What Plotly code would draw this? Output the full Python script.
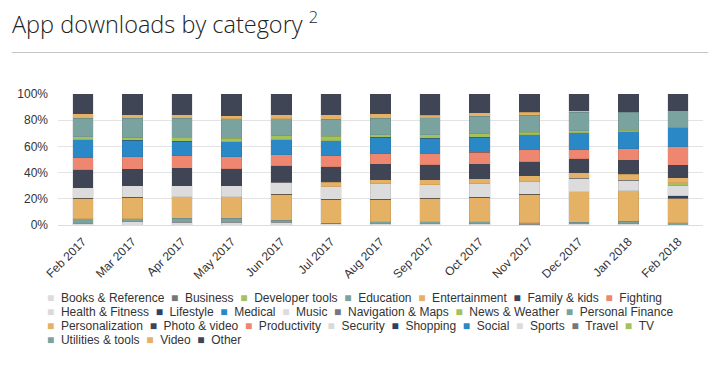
import plotly.graph_objects as go

# ---------------- data ----------------
months = ["Feb 2017", "Mar 2017", "Apr 2017", "May 2017", "Jun 2017", "Jul 2017",
          "Aug 2017", "Sep 2017", "Oct 2017", "Nov 2017", "Dec 2017", "Jan 2018", "Feb 2018"]

categories = ["Books & Reference", "Business", "Developer tools", "Education", "Entertainment",
              "Family & kids", "Fighting", "Health & Fitness", "Lifestyle", "Medical", "Music",
              "Navigation & Maps", "News & Weather", "Personal Finance", "Personalization",
              "Photo & video", "Productivity", "Security", "Shopping", "Social", "Sports",
              "Travel", "TV", "Utilities & tools", "Video", "Other"]

books_reference = [1.5, 2.6, 2.0, 2.0, 2.0, 1.3, 0.8, 0.8, 0.8, 0.6, 1.0, 1.2, 0.0]
business        = [0.0] * 13
developer_tools = [0.0] * 13
education       = [3.1, 2.3, 3.1, 3.1, 1.8, 0.0, 1.8, 1.8, 1.8, 1.2, 1.0, 1.7, 1.8]
entertainment   = [15.8, 16.3, 16.6, 16.6, 19.6, 18.4, 17.1, 17.9, 18.6, 21.7, 23.5, 23.3, 18.7]
family_kids     = [0.0] * 13
fighting        = [0.0] * 13
health_fitness  = [0.0] * 13
lifestyle       = [0, 0, 0, 0, 0, 0, 0, 0, 0, 0, 0, 0, 1.8]
medical         = [0.0] * 13
music           = [8.2, 8.7, 8.2, 8.2, 9.2, 9.7, 11.7, 10.2, 10.2, 9.7, 10.2, 8.0, 7.7]
navigation_maps = [0.0] * 13
news_weather    = [0, 0, 0, 0, 0, 0, 0, 0, 0, 0, 0, 0, 2.3]
personal_finance = [0.0] * 13
personalization = [0, 0, 0, 0, 0, 3.1, 3.1, 3.8, 3.8, 4.3, 4.3, 4.6, 3.8]
photo_video     = [13.5, 12.8, 13.5, 13.0, 12.5, 12.0, 12.0, 11.5, 11.2, 11.0, 10.5, 10.5, 9.7]
productivity    = [9.2, 9.4, 9.4, 9.2, 8.4, 8.4, 7.9, 8.9, 9.2, 8.9, 7.4, 9.1, 13.8]
security        = [0.0] * 13
shopping        = [0.0] * 13
social          = [13.8, 12.5, 11.0, 11.7, 11.5, 11.5, 12.5, 11.5, 11.5, 11.5, 12.5, 12.9, 14.8]
sports          = [0.0] * 13
travel          = [0.0] * 13
tv              = [2.3, 2.0, 3.1, 2.6, 3.1, 3.3, 2.0, 2.6, 2.6, 1.8, 1.5, 1.2, 0.0]
utilities_tools = [14.0, 14.8, 14.5, 14.8, 13.0, 13.3, 12.5, 13.0, 13.3, 13.0, 14.3, 13.6, 12.8]
video           = [3.6, 2.8, 2.8, 2.3, 3.1, 3.3, 3.6, 1.8, 2.6, 2.6, 1.0, 0.5, 0.0]
other           = [15.0, 15.8, 15.8, 16.6, 15.8, 15.8, 15.0, 16.3, 14.5, 13.8, 12.8, 13.4, 12.8]

series_values = [books_reference, business, developer_tools, education, entertainment,
                 family_kids, fighting, health_fitness, lifestyle, medical, music,
                 navigation_maps, news_weather, personal_finance, personalization,
                 photo_video, productivity, security, shopping, social, sports,
                 travel, tv, utilities_tools, video, other]

y_tick_values = [0, 20, 40, 60, 80, 100]
y_tick_labels = ["0%", "20%", "40%", "60%", "80%", "100%"]

palette = ["#dcdcdc", "#76777d", "#a3c25b", "#7aa39f", "#e5b165",
           "#404556", "#ee8670", "#dadada", "#2e4066", "#2a88c6"]

legend_rows = [7, 7, 9, 3]

# ---------------- layout geometry ----------------
W, H = 713, 382
ML, MR, MT, MB = 58, 10, 94, 157
PW, PH = W - ML - MR, H - MT - MB


def px(x):
    return (x - ML) / PW


def py(y):
    return (H - MB - y) / PH


FONT = "Arial, 'Liberation Sans', sans-serif"

fig = go.Figure()
for i, (name, vals) in enumerate(zip(categories, series_values)):
    col = palette[i % len(palette)]
    fig.add_trace(go.Bar(
        x=months, y=vals, name=name,
        marker=dict(color=col, line=dict(color="rgba(60,60,60,0.18)", width=0.6)),
        showlegend=False,
    ))

fig.update_layout(
    width=W, height=H,
    margin=dict(l=ML, r=MR, t=MT, b=MB, pad=0),
    barmode="stack", barnorm="percent", bargap=0.585,
    paper_bgcolor="white", plot_bgcolor="white",
    font=dict(family=FONT, size=12, color="#333333"),
    title=dict(
        text="App downloads by category <sup>2</sup>",
        x=12 / W, xanchor="left", xref="container",
        y=1 - 25 / H, yanchor="middle", yref="container",
        font=dict(family="'Open Sans', sans-serif", size=23.5, color="#222222", weight=300),
    ),
)

fig.update_yaxes(
    range=[0, 100], tickvals=y_tick_values, ticktext=y_tick_labels,
    showgrid=True, gridcolor="#e3e3e3", gridwidth=1,
    zeroline=False, showline=False, ticks="",
    ticklabelstandoff=9,
    tickfont=dict(size=12, color="#333333", family=FONT),
)
fig.update_xaxes(
    tickangle=-45, showgrid=False, showline=True, linecolor="#dcdcdc", linewidth=1,
    ticks="", ticklabelstandoff=4,
    tickfont=dict(size=12, color="#333333", family=FONT),
)

# separator line under title
fig.add_shape(type="line", xref="paper", yref="paper",
              x0=px(12), x1=px(708), y0=py(52.5), y1=py(52.5),
              line=dict(color="#c4c4c4", width=1))

# legend (manual, Highcharts-like compact layout)
row_y = [298, 312, 326, 339.5]
NB = "\u00a0"
k = 0
for r, n in enumerate(legend_rows):
    parts = []
    for j in range(n):
        col = palette[k % len(palette)]
        parts.append(f"<span style='color:{col}'>■</span>{NB*2}{categories[k]}")
        k += 1
    fig.add_annotation(
        text=(NB * 2).join(parts), xref="paper", yref="paper",
        x=px(45), y=py(row_y[r]), xanchor="left", yanchor="middle",
        showarrow=False, align="left",
        font=dict(family=FONT, size=12, color="#333333"),
    )

fig.write_html("out.html", config={"displayModeBar": False},
               post_script="document.body.style.margin='0';document.body.style.overflow='hidden';")
